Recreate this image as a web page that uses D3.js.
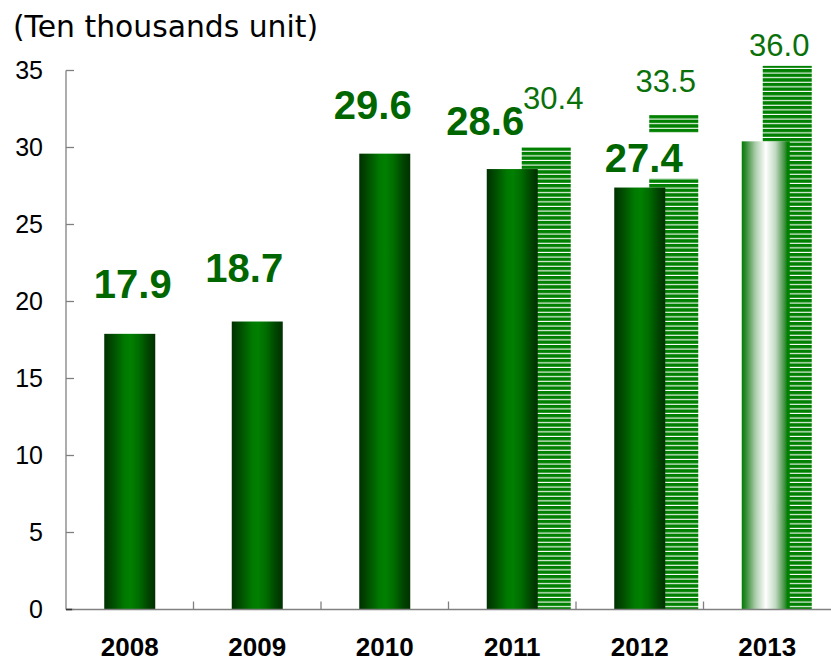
<html>
  <script src='https://d3js.org/d3.v7.min.js'></script>
  <style>
    body {margin: 0; background: white;}
    text {font-family: 'Liberation Sans', Arial, sans-serif;}
  </style>
  <body>
    <svg class="chart" width=831 height=663></svg>
    <script>
      // values
      var years = ["2008", "2009", "2010", "2011", "2012", "2013"];
      var actual = [17.9, 18.7, 29.6, 28.6, 27.4, 30.4];      // 2013 is the pale bar, no label
      var actualLabels = ["17.9", "18.7", "29.6", "28.6", "27.4"];
      var planYears = ["2011", "2012", "2013"];
      var planBars = [30.0, 32.1, 35.3];
      var planLabels = ["30.4", "33.5", "36.0"];
      var yTicks = [0, 5, 10, 15, 20, 25, 30, 35];

      // label nudges (dx, dy from bar centre / top), as placed in the original
      var boldNudge = [[3, -36], [-13, -40], [-12, -35], [-27, -34], [4, -16]];
      var planNudge = [[7, -39], [-8, -23], [-8, -10]];
      var planShift = [35, 35, 21];

      var svg = d3.select('.chart');

      var x = d3.scaleBand().domain(years).range([66, 831]).padding(0);
      var y = d3.scaleLinear().domain([0, 35]).range([609.5, 70.5]);
      var bw = x.bandwidth();
      var barW = bw * 0.4;
      function barX(yr) { return x(yr) + bw * 0.3; }

      var defs = svg.append("defs");
      var g1 = defs.append("linearGradient").attr("id", "solid");
      [[0, "#003000"], [0.15, "#004a00"], [0.4, "#007a00"], [0.52, "#008000"],
       [0.68, "#006c00"], [0.86, "#004500"], [1, "#003000"]]
        .forEach(function(s) { g1.append("stop").attr("offset", s[0]).attr("stop-color", s[1]); });
      var g2 = defs.append("linearGradient").attr("id", "pale");
      [[0, "#007d00"], [0.08, "#2f8a2f"], [0.28, "#a9cba9"], [0.5, "#ffffff"],
       [0.7, "#c3dac3"], [0.9, "#3c8f3c"], [0.95, "#008000"], [1, "#008000"]]
        .forEach(function(s) { g2.append("stop").attr("offset", s[0]).attr("stop-color", s[1]); });
      var pat = defs.append("pattern").attr("id", "hatch")
        .attr("patternUnits", "userSpaceOnUse").attr("width", 10).attr("height", 4.6);
      pat.append("rect").attr("width", 10).attr("height", 4.6).attr("fill", "white");
      pat.append("rect").attr("width", 10).attr("height", 3.5).attr("fill", "#008000");

      // plan (hatched) bars behind
      svg.append("g").selectAll("rect").data(planYears).enter().append("rect")
        .attr("x", function(d, i) { return barX(d) + planShift[i]; })
        .attr("y", function(d, i) { return y(planBars[i]); })
        .attr("width", 49)
        .attr("height", function(d, i) { return y(0) - y(planBars[i]); })
        .attr("fill", "url(#hatch)");

      // actual bars
      svg.append("g").selectAll("rect").data(years).enter().append("rect")
        .attr("x", function(d) { return barX(d); })
        .attr("y", function(d, i) { return y(actual[i]); })
        .attr("width", function(d, i) { return i == 5 ? 48 : barW; })
        .attr("height", function(d, i) { return y(0) - y(actual[i]); })
        .attr("fill", function(d, i) { return i == 5 ? "url(#pale)" : "url(#solid)"; });

      // axes
      var axis = svg.append("g").attr("stroke", "#808080").attr("stroke-width", 1.3);
      axis.append("line").attr("x1", 66).attr("x2", 66).attr("y1", y(35)).attr("y2", y(0));
      axis.append("line").attr("x1", 66).attr("x2", 831).attr("y1", y(0)).attr("y2", y(0));
      axis.selectAll(".yt").data(yTicks).enter().append("line")
        .attr("x1", 66).attr("x2", 74)
        .attr("y1", function(d) { return y(d); }).attr("y2", function(d) { return y(d); });
      axis.selectAll(".xt").data(years.slice(1)).enter().append("line")
        .attr("x1", function(d) { return x(d); }).attr("x2", function(d) { return x(d); })
        .attr("y1", y(0) - 8).attr("y2", y(0));
      svg.append("line").attr("x1", 66).attr("x2", 72).attr("y1", y(0)).attr("y2", y(0))
        .attr("stroke", "#333").attr("stroke-width", 1.5);

      svg.append("g").selectAll("text").data(yTicks).enter().append("text")
        .attr("x", 43).attr("y", function(d) { return y(d); }).attr("dy", "0.35em")
        .attr("text-anchor", "end").style("font-size", "25px").attr("fill", "#000")
        .text(function(d) { return d; });

      svg.append("g").selectAll("text").data(years).enter().append("text")
        .attr("x", function(d) { return x(d) + bw / 2; }).attr("y", 656)
        .attr("text-anchor", "middle").style("font-size", "26px").style("font-weight", "bold")
        .text(function(d) { return d; });

      // bold value labels with white boxes
      var lab = svg.append("g").selectAll("g").data(actualLabels).enter().append("g")
        .attr("transform", function(d, i) {
          return "translate(" + (barX(years[i]) + barW / 2 + boldNudge[i][0]) + "," + (y(actual[i]) + boldNudge[i][1]) + ")";
        });
      lab.append("rect").attr("x", -57).attr("y", -39).attr("width", 114).attr("height", 46).attr("fill", "white");
      lab.append("text").attr("text-anchor", "middle")
        .style("font-size", "40px").style("font-weight", "bold").attr("fill", "#006600")
        .text(function(d) { return d; });

      svg.append("g").selectAll("text").data(planLabels).enter().append("text")
        .attr("x", function(d, i) { return barX(planYears[i]) + planShift[i] + 24.5 + planNudge[i][0]; })
        .attr("y", function(d, i) { return y(planBars[i]) + planNudge[i][1]; })
        .attr("text-anchor", "middle").style("font-size", "31px").attr("fill", "#0a700a")
        .text(function(d) { return d; });

      svg.append("text").attr("x", 13).attr("y", 37)
        .style("font-family", "'DejaVu Sans', Verdana, sans-serif").style("font-size", "29.8px")
        .text("(Ten thousands unit)");
    </script>
  </body>
</html>
